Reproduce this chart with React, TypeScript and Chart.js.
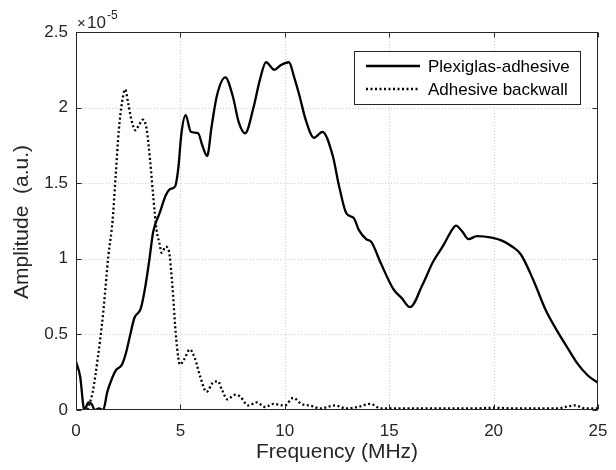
import React, { useEffect, useRef } from "react";
import { Chart, registerables } from "chart.js";

Chart.register(...registerables);

// Frequency (MHz) and amplitude (x 1e-5 a.u.)
const plexiFreq = [0, 0.2, 0.4, 0.6, 0.75, 0.9, 1.1, 1.3, 1.5, 1.7, 1.9, 2.2, 2.4, 2.6, 2.8, 3.1, 3.3, 3.5, 3.7, 4.0, 4.3, 4.5, 4.75, 4.9, 5.05, 5.25, 5.5, 5.85, 6.05, 6.28, 6.5, 6.75, 7.15, 7.5, 7.8, 8.1, 8.5, 8.8, 9.1, 9.5, 9.8, 10.2, 10.45, 10.7, 11.0, 11.4, 11.8, 12.3, 12.6, 12.95, 13.3, 13.55, 13.9, 14.15, 14.6, 15.2, 15.6, 16.0, 16.6, 17.1, 17.6, 18.0, 18.2, 18.5, 18.8, 19.2, 19.9, 20.4, 20.9, 21.3, 21.9, 22.5, 23.1, 23.5, 24.0, 24.5, 25];
const plexiAmp = [0.32, 0.22, 0.0, 0.05, 0.04, 0.0, 0.01, 0.0, 0.12, 0.2, 0.26, 0.30, 0.38, 0.50, 0.61, 0.67, 0.80, 0.98, 1.18, 1.30, 1.42, 1.46, 1.48, 1.60, 1.83, 1.95, 1.84, 1.83, 1.75, 1.68, 1.88, 2.08, 2.20, 2.08, 1.90, 1.83, 2.00, 2.18, 2.30, 2.25, 2.28, 2.30, 2.20, 2.08, 1.92, 1.80, 1.84, 1.68, 1.48, 1.30, 1.27, 1.19, 1.13, 1.11, 0.97, 0.80, 0.74, 0.68, 0.83, 0.98, 1.09, 1.19, 1.22, 1.18, 1.13, 1.15, 1.14, 1.12, 1.08, 1.03, 0.86, 0.66, 0.51, 0.42, 0.31, 0.23, 0.18];

const backFreq = [0.55, 0.8, 1.05, 1.3, 1.55, 1.75, 1.9, 2.05, 2.2, 2.35, 2.5, 2.65, 2.85, 3.0, 3.2, 3.38, 3.55, 3.7, 3.86, 4.0, 4.1, 4.3, 4.45, 4.6, 4.8, 4.98, 5.2, 5.45, 5.7, 5.95, 6.25, 6.55, 6.8, 7.0, 7.25, 7.6, 7.85, 8.25, 8.65, 9.05, 9.45, 10.0, 10.4, 10.8, 11.2, 11.7, 12.4, 12.95, 13.5, 14.1, 14.6, 15.5, 17, 19, 20, 21, 23, 23.9, 24.4, 25];
const backAmp = [0.0, 0.12, 0.35, 0.64, 1.02, 1.25, 1.55, 1.85, 2.03, 2.12, 2.03, 1.92, 1.85, 1.88, 1.92, 1.86, 1.65, 1.41, 1.19, 1.10, 1.04, 1.08, 1.05, 0.85, 0.47, 0.30, 0.34, 0.40, 0.34, 0.22, 0.12, 0.18, 0.19, 0.13, 0.07, 0.10, 0.09, 0.03, 0.05, 0.02, 0.04, 0.03, 0.08, 0.04, 0.03, 0.01, 0.03, 0.01, 0.02, 0.04, 0.01, 0.01, 0.01, 0.01, 0.015, 0.01, 0.01, 0.03, 0.01, 0.01];

const seriesNames = ["Plexiglas-adhesive", "Adhesive backwall"];
const xTicks = [0, 5, 10, 15, 20, 25];
const yTicks = [0, 0.5, 1, 1.5, 2, 2.5];
const xTitle = "Frequency (MHz)";
const yTitle = "Amplitude  (a.u.)";
const exponentLabel = "-5";

const FONT = "'Liberation Sans', Arial, Helvetica, sans-serif";
const TXT = "#262626";

const decorPlugin = {
  id: "decor",
  beforeDatasetsDraw(chart: any) {
    const { ctx, chartArea: a, scales } = chart;
    ctx.save();
    ctx.strokeStyle = "#cfcfcf";
    ctx.lineWidth = 1;
    ctx.setLineDash([1, 2]);
    xTicks.slice(1, -1).forEach((t) => {
      const x = Math.round(scales.x.getPixelForValue(t)) + 0.5;
      ctx.beginPath();
      ctx.moveTo(x, a.top);
      ctx.lineTo(x, a.bottom);
      ctx.stroke();
    });
    yTicks.slice(1, -1).forEach((t) => {
      const y = Math.round(scales.y.getPixelForValue(t)) + 0.5;
      ctx.beginPath();
      ctx.moveTo(a.left, y);
      ctx.lineTo(a.right, y);
      ctx.stroke();
    });
    ctx.restore();
  },
  afterDatasetsDraw(chart: any) {
    const { ctx, chartArea: a, scales } = chart;
    ctx.save();
    ctx.setLineDash([]);
    ctx.strokeStyle = TXT;
    ctx.lineWidth = 1;
    const L = Math.round(a.left) + 0.5;
    const R = Math.round(a.right) - 0.5;
    const T = Math.round(a.top) + 0.5;
    const B = Math.round(a.bottom) - 0.5;
    ctx.strokeRect(L, T, R - L, B - T);
    const tl = 5;
    ctx.beginPath();
    xTicks.forEach((t) => {
      const x = Math.round(scales.x.getPixelForValue(t)) + 0.5;
      ctx.moveTo(x, B);
      ctx.lineTo(x, B - tl);
      ctx.moveTo(x, T);
      ctx.lineTo(x, T + tl);
    });
    yTicks.forEach((t) => {
      const y = Math.round(scales.y.getPixelForValue(t)) + 0.5;
      ctx.moveTo(L, y);
      ctx.lineTo(L + tl, y);
      ctx.moveTo(R, y);
      ctx.lineTo(R - tl, y);
    });
    ctx.stroke();

    // legend
    const lx = 354.5, ly = 51.5, lw = 226, lh = 53;
    ctx.fillStyle = "#ffffff";
    ctx.fillRect(lx, ly, lw, lh);
    ctx.strokeStyle = TXT;
    ctx.lineWidth = 1;
    ctx.strokeRect(lx, ly, lw, lh);
    const rows = [66, 89];
    chart.data.datasets.forEach((ds: any, i: number) => {
      ctx.save();
      ctx.strokeStyle = "#000";
      ctx.lineWidth = ds.borderWidth;
      ctx.setLineDash(ds.borderDash || []);
      ctx.beginPath();
      ctx.moveTo(366, rows[i]);
      ctx.lineTo(420, rows[i]);
      ctx.stroke();
      ctx.restore();
      ctx.fillStyle = "#000";
      ctx.font = `17px ${FONT}`;
      ctx.textAlign = "left";
      ctx.textBaseline = "middle";
      ctx.fillText(ds.label, 428, rows[i] + 1);
    });

    // axis titles
    ctx.fillStyle = TXT;
    ctx.font = `21px ${FONT}`;
    ctx.textAlign = "center";
    ctx.textBaseline = "alphabetic";
    ctx.fillText(xTitle, (a.left + a.right) / 2, 458);
    ctx.save();
    ctx.translate(28, 222);
    ctx.rotate(-Math.PI / 2);
    ctx.fillText(yTitle, 0, 0);
    ctx.restore();

    // exponent
    ctx.textAlign = "left";
    ctx.font = `15px ${FONT}`;
    ctx.fillText("\u00d7", 77, 28);
    ctx.font = `17px ${FONT}`;
    ctx.fillText("10", 87, 28);
    ctx.font = `12px ${FONT}`;
    ctx.fillText(exponentLabel, 107, 19);
    ctx.restore();
  },
};

export default function App() {
  const ref = useRef<HTMLCanvasElement>(null);
  useEffect(() => {
    document.body.style.margin = "0";
    const chart = new Chart(ref.current!, {
      type: "line",
      data: {
        datasets: [
          {
            label: seriesNames[0],
            data: plexiFreq.map((x, i) => ({ x, y: plexiAmp[i] })),
            borderColor: "#000",
            borderWidth: 2.3,
            pointRadius: 0,
            tension: 0.4,
            cubicInterpolationMode: "monotone",
          },
          {
            label: seriesNames[1],
            data: backFreq.map((x, i) => ({ x, y: backAmp[i] })),
            borderColor: "#000",
            borderWidth: 2.3,
            borderDash: [2, 2.5],
            pointRadius: 0,
            tension: 0.4,
            cubicInterpolationMode: "monotone",
          },
        ],
      },
      options: {
        animation: false,
        responsive: false,
        layout: { padding: { top: 32, right: 18, left: 0, bottom: 0 } },
        plugins: { legend: { display: false }, tooltip: { enabled: false } },
        scales: {
          x: {
            type: "linear",
            min: 0,
            max: 25,
            afterBuildTicks: (s: any) => {
              s.ticks = xTicks.map((v) => ({ value: v }));
            },
            afterFit: (s: any) => {
              s.height = 60;
              s.paddingLeft = 0;
              s.paddingRight = 0;
            },
            grid: { display: false, drawTicks: false },
            border: { display: false },
            ticks: { color: TXT, font: { family: FONT, size: 17 }, padding: 11, maxRotation: 0, callback: (v: any) => String(v) },
          },
          y: {
            type: "linear",
            min: 0,
            max: 2.5,
            afterBuildTicks: (s: any) => {
              s.ticks = yTicks.map((v) => ({ value: v }));
            },
            afterFit: (s: any) => {
              s.width = 76;
              s.paddingTop = 0;
              s.paddingBottom = 0;
            },
            grid: { display: false, drawTicks: false },
            border: { display: false },
            ticks: { color: TXT, font: { family: FONT, size: 17 }, padding: 8, callback: (v: any) => String(v) },
          },
        },
      },
      plugins: [decorPlugin],
    } as any);
    return () => chart.destroy();
  }, []);
  return <canvas ref={ref} width={616} height={470} style={{ display: "block" }} />;
}
